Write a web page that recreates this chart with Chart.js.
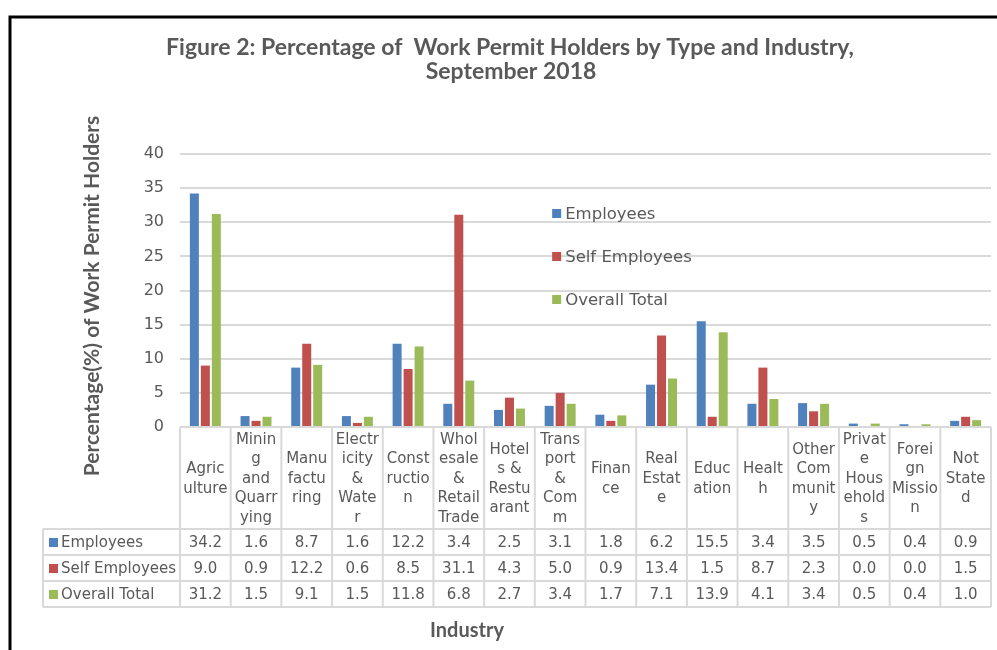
<!DOCTYPE html>
<html>
<head>
<meta charset="utf-8">
<script src="https://cdn.jsdelivr.net/npm/chart.js@4.4.1/dist/chart.umd.min.js"></script>
<style>
  html, body { margin: 0; padding: 0; background: #ffffff; }
  #wrap { width: 997px; height: 650px; position: relative; }
</style>
</head>
<body>
<div id="wrap"><canvas id="c" width="997" height="650"></canvas></div>
<script>
// ---- Data ----
const categories = ["Agriculture", "Mining and Quarrying", "Manufacturing", "Electricity & Water",
  "Construction", "Wholesale & Retail Trade", "Hotels & Restuarant", "Transport & Comm",
  "Finance", "Real Estate", "Education", "Health", "Other Community", "Private Households",
  "Foreign Mission", "Not Stated"];
const tickLabels = [
  ["Agric", "ulture"],
  ["Minin", "g", "and", "Quarr", "ying"],
  ["Manu", "factu", "ring"],
  ["Electr", "icity", "&", "Wate", "r"],
  ["Const", "ructio", "n"],
  ["Whol", "esale", "&", "Retail", "Trade"],
  ["Hotel", "s &", "Restu", "arant"],
  ["Trans", "port", "&", "Com", "m"],
  ["Finan", "ce"],
  ["Real", "Estat", "e"],
  ["Educ", "ation"],
  ["Healt", "h"],
  ["Other", "Com", "munit", "y"],
  ["Privat", "e", "Hous", "ehold", "s"],
  ["Forei", "gn", "Missio", "n"],
  ["Not", "State", "d"]
];
const seriesNames = ["Employees", "Self Employees", "Overall Total"];
const employees     = [34.2, 1.6, 8.7, 1.6, 12.2, 3.4, 2.5, 3.1, 1.8, 6.2, 15.5, 3.4, 3.5, 0.5, 0.4, 0.9];
const selfEmployees = [9.0, 0.9, 12.2, 0.6, 8.5, 31.1, 4.3, 5.0, 0.9, 13.4, 1.5, 8.7, 2.3, 0.0, 0.0, 1.5];
const overallTotal  = [31.2, 1.5, 9.1, 1.5, 11.8, 6.8, 2.7, 3.4, 1.7, 7.1, 13.9, 4.1, 3.4, 0.5, 0.4, 1.0];
const yTicks = [0, 5, 10, 15, 20, 25, 30, 35, 40];
const titleLines = ["Figure 2: Percentage of  Work Permit Holders by Type and Industry,", "September 2018"];
const yTitle = "Percentage(%) of Work Permit Holders";
const xTitle = "Industry";

const colors = ["#4F81BD", "#C0504D", "#9BBB59"];
const seriesData = [employees, selfEmployees, overallTotal];
const TXT = "#595959";
const REG = "'DejaVu Sans', sans-serif";
const BOLD = "Lato, 'DejaVu Sans', sans-serif";

const decor = {
  id: "decor",
  beforeDraw(chart) {
    const ctx = chart.ctx;
    ctx.save();
    ctx.fillStyle = "#ffffff";
    ctx.fillRect(0, 0, chart.width, chart.height);
    // outer frame
    ctx.strokeStyle = "#000000";
    ctx.lineWidth = 3;
    ctx.beginPath();
    ctx.moveTo(10, 660);
    ctx.lineTo(10, 17);
    ctx.lineTo(1010, 17);
    ctx.stroke();
    ctx.restore();
  },
  afterDraw(chart) {
    const ctx = chart.ctx;
    const xs = chart.scales.x;
    const area = chart.chartArea;
    const n = categories.length;
    const cw = (area.right - area.left) / n;
    const top = area.bottom;
    const headBottom = top + 102;
    const rowH = 26;
    const tableBottom = headBottom + rowH * 3;
    const labelLeft = 43;
    ctx.save();

    // title
    ctx.fillStyle = TXT;
    ctx.textAlign = "center";
    ctx.textBaseline = "middle";
    ctx.font = "bold 23px " + BOLD;
    ctx.fillText(titleLines[0], 510, 48);
    ctx.fillText(titleLines[1], 511, 72);

    // y title
    ctx.save();
    ctx.translate(92, 296);
    ctx.rotate(-Math.PI / 2);
    ctx.font = "bold 21px " + BOLD;
    ctx.fillText(yTitle, 0, 0);
    ctx.restore();

    // x title
    ctx.font = "bold 20px " + BOLD;
    ctx.fillText(xTitle, 467, 631);

    // legend inside plot
    const legX = xs.getPixelForValue(7) - 8;
    const legY = [214, 257, 300];
    ctx.font = "16.5px " + REG;
    ctx.textAlign = "left";
    seriesNames.forEach((s, i) => {
      ctx.fillStyle = colors[i];
      ctx.fillRect(legX, legY[i] - 5, 9, 9);
      ctx.fillStyle = TXT;
      ctx.fillText(s, legX + 13, legY[i] + 1);
    });

    // table grid
    ctx.strokeStyle = "#d9d9d9";
    ctx.lineWidth = 2;
    ctx.beginPath();
    ctx.moveTo(area.left, top); ctx.lineTo(area.right, top);
    for (let r = 0; r <= 3; r++) {
      const y = headBottom + r * rowH;
      ctx.moveTo(labelLeft, y); ctx.lineTo(area.right, y);
    }
    ctx.moveTo(labelLeft, headBottom); ctx.lineTo(labelLeft, tableBottom);
    for (let i = 0; i <= n; i++) {
      const x = xs.getPixelForValue(i) - cw / 2;
      ctx.moveTo(x, top); ctx.lineTo(x, tableBottom);
    }
    ctx.stroke();

    // header labels
    ctx.fillStyle = TXT;
    ctx.textAlign = "center";
    ctx.font = "15px " + REG;
    const lh = 19.5;
    const headMid = (top + headBottom) / 2 + 1;
    tickLabels.forEach((lines, i) => {
      const cx = xs.getPixelForValue(i);
      const y0 = headMid - (lines.length - 1) * lh / 2;
      lines.forEach((t, k) => ctx.fillText(t, cx, y0 + k * lh));
    });

    // data rows
    seriesData.forEach((arr, r) => {
      const cy = headBottom + r * rowH + rowH / 2 + 1;
      ctx.fillStyle = colors[r];
      ctx.fillRect(labelLeft + 6, cy - 5, 9, 9);
      ctx.fillStyle = TXT;
      ctx.textAlign = "left";
      ctx.fillText(seriesNames[r], labelLeft + 18, cy);
      ctx.textAlign = "center";
      arr.forEach((v, i) => ctx.fillText(v.toFixed(1), xs.getPixelForValue(i), cy));
    });
    ctx.restore();
  }
};

new Chart(document.getElementById("c"), {
  type: "bar",
  data: {
    labels: categories,
    datasets: seriesNames.map((s, i) => ({
      label: s,
      data: seriesData[i],
      backgroundColor: colors[i],
      borderWidth: 0,
      categoryPercentage: 0.65,
      barPercentage: 0.82
    }))
  },
  options: {
    responsive: false,
    animation: false,
    devicePixelRatio: 1,
    layout: { padding: { top: 154, bottom: 223, left: 0, right: 6 } },
    plugins: { legend: { display: false }, title: { display: false }, tooltip: { enabled: false } },
    scales: {
      x: {
        grid: { display: false },
        border: { display: false },
        ticks: { display: false },
        afterFit(s) { s.height = 0; }
      },
      y: {
        min: 0, max: 40,
        afterBuildTicks(s) { s.ticks = yTicks.map(v => ({ value: v })); },
        afterFit(s) { s.width = 180; },
        grid: { color: "#d9d9d9", lineWidth: 2, drawTicks: false },
        border: { display: false },
        ticks: { color: TXT, font: { family: REG, size: 16 }, padding: 16 }
      }
    }
  },
  plugins: [decor]
});
</script>
</body>
</html>
